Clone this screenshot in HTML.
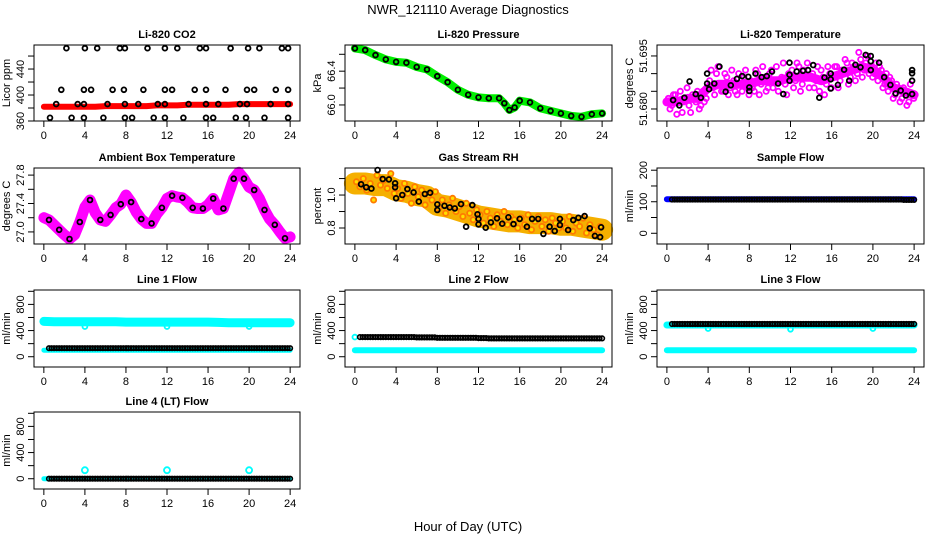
<!DOCTYPE html>
<html><head><meta charset="utf-8">
<style>
html,body{margin:0;padding:0;background:#fff;}
svg{display:block;font-family:"Liberation Sans",Arial,sans-serif;}
</style></head>
<body>
<svg id="chart" width="936" height="540" viewBox="0 0 936 540">
<text x="468" y="14" text-anchor="middle" font-size="13">NWR_121110  Average Diagnostics</text>
<text x="468" y="531" text-anchor="middle" font-size="13">Hour of Day (UTC)</text>
</svg>
<script>
// ---------- data ----------
const xTicks = [0,4,8,12,16,20,24];
const co2Band = [382,382,382,382,382,382,383,383,383,383,383,384,384,384,385,385,385,385,385,386,386,386,386,386,386];
const co2TopH = [2.2,4,5.2,7.4,7.9,10.1,11.8,13,15.2,15.8,18.2,19.9,21,23.2,23.8];
const co2MidH = [1.7,3.9,4.6,6.7,7.8,9.7,11.8,12.5,14.7,15.8,17.7,19.8,20.5,22.6,23.8];
const co2LowH = [1.2,3.3,3.9,6.2,7.9,9.2,11.1,11.8,14.1,15.8,17,19.1,19.8,22.1,23.8];
const co2BotH = [0.6,2.7,3.9,5.8,7.9,8.6,10.7,11.8,13.6,15.8,16.5,18.7,19.7,21.5,23.8];
const co2Levels = [472,408,386,365];

const presHours = [0,1,2,3,4,5,6,7,8,9,10,11,12,13,14,14.5,15,15.5,16,17,18,19,20,21,22,23,24];
const presVals = [66.67,66.65,66.59,66.54,66.51,66.50,66.45,66.42,66.34,66.27,66.18,66.12,66.09,66.08,66.08,66.02,65.94,65.97,66.05,66.03,65.96,65.93,65.90,65.87,65.86,65.89,65.90];

const tempTrend = [51.682,51.682,51.683,51.683,51.686,51.687,51.687,51.687,51.687,51.688,51.688,51.688,51.689,51.689,51.689,51.688,51.689,51.690,51.691,51.692,51.691,51.689,51.686,51.685,51.684];
const tempMagenta = [51.683,51.681,51.684,51.682,51.679,51.683,51.681,51.684,51.682,51.680,51.685,51.683,
51.688,51.686,51.690,51.687,51.685,51.689,51.686,51.688,51.684,51.687,51.689,51.686,
51.688,51.685,51.690,51.687,51.689,51.686,51.691,51.688,51.685,51.689,51.687,51.690,
51.691,51.688,51.692,51.687,51.689,51.686,51.690,51.688,51.685,51.689,51.687,51.690,
51.689,51.692,51.688,51.691,51.693,51.689,51.692,51.690,51.694,51.691,51.695,51.692,
51.690,51.688,51.691,51.687,51.685,51.688,51.684,51.686,51.683,51.685,51.682,51.684];
const tempMagenta2 = [51.680,51.684,51.6785,51.685,51.682,51.686,51.679,51.683,51.685,51.681,51.682,51.686,
51.691,51.684,51.692,51.685,51.690,51.684,51.691,51.685,51.690,51.685,51.691,51.684,
51.686,51.691,51.684,51.692,51.685,51.690,51.686,51.692,51.688,51.693,51.684,51.688,
51.686,51.693,51.685,51.691,51.693,51.689,51.686,51.692,51.691,51.684,51.692,51.686,
51.692,51.686,51.691,51.694,51.687,51.693,51.688,51.696,51.689,51.693,51.690,51.689,
51.693,51.692,51.686,51.690,51.689,51.683,51.687,51.682,51.686,51.681,51.687,51.683];
const tempBlackH = [0.6,1.2,1.7,2.2,2.8,3.3,3.9,3.9,4.1,4.6,5.1,5.7,6.2,6.8,7.3,7.9,8.0,8.0,8.6,9.2,9.7,10.2,10.8,11.3,11.9,11.9,11.9,12.6,13.2,13.7,14.2,14.8,15.3,15.9,15.9,15.9,16.6,17.2,17.7,18.3,18.8,19.3,19.8,19.8,19.8,20.6,21.1,21.7,22.2,22.7,23.2,23.8,23.8,23.8,23.8];
const tempBlackV = [51.6825,51.681,51.6832,51.6878,51.6842,51.6832,51.690,51.6872,51.6856,51.6872,51.692,51.6849,51.6867,51.6885,51.6893,51.6891,51.6861,51.6851,51.690,51.689,51.6893,51.6906,51.6872,51.6842,51.6931,51.6897,51.688,51.6906,51.6908,51.691,51.6924,51.6832,51.6889,51.690,51.6884,51.6858,51.6868,51.6911,51.688,51.6925,51.6918,51.6953,51.695,51.6935,51.691,51.6931,51.689,51.6868,51.6844,51.6852,51.6838,51.6842,51.688,51.6901,51.691];

const ambHours = [0,0.5,1,1.5,2,2.5,3,3.5,4,4.5,5,5.5,6,6.5,7,7.5,8,8.5,9,9.5,10,10.5,11,11.5,12,12.5,13,13.5,14,14.5,15,15.5,16,16.5,17,17.5,18,18.5,19,19.5,20,20.5,21,21.5,22,22.5,23,23.5,24];
const ambVals = [27.20,27.17,27.10,27.03,26.96,26.90,26.96,27.14,27.35,27.45,27.27,27.17,27.15,27.24,27.34,27.39,27.52,27.42,27.28,27.18,27.12,27.12,27.25,27.34,27.47,27.51,27.49,27.48,27.42,27.34,27.33,27.33,27.38,27.47,27.31,27.33,27.54,27.75,27.84,27.75,27.63,27.59,27.47,27.31,27.18,27.10,27.00,26.91,26.93];

const rhTrend = [1.07,1.07,1.06,1.06,1.03,1.02,1.00,0.99,0.94,0.93,0.91,0.89,0.87,0.86,0.85,0.84,0.84,0.83,0.83,0.83,0.82,0.82,0.81,0.80,0.79];
const rhOrange = [1.08,1.05,1.10,1.03,1.07,0.97,1.12,1.06,1.09,1.04,1.13,1.01,
1.04,0.98,1.07,1.01,0.95,1.05,0.99,1.03,0.94,1.00,0.97,1.02,
0.92,0.97,0.89,0.94,0.98,0.90,0.93,0.87,0.95,0.89,0.85,0.91,
0.88,0.83,0.90,0.86,0.81,0.88,0.84,0.90,0.82,0.87,0.85,0.80,
0.86,0.82,0.88,0.79,0.84,0.87,0.81,0.85,0.78,0.86,0.83,0.80,
0.84,0.80,0.87,0.78,0.83,0.81,0.86,0.77,0.82,0.79,0.76,0.81];
const rhBlackH = [0.6,1.1,1.6,2.2,2.7,3.3,3.9,3.9,4.0,4.6,5.1,5.7,6.2,6.8,7.3,8.0,8.0,8.7,9.2,9.7,10.3,10.8,11.4,11.9,12.0,12.0,12.7,13.2,13.8,14.3,14.9,15.4,16.0,16.7,17.2,17.8,18.3,18.9,19.4,19.9,19.9,20.7,21.2,21.7,22.3,22.8,23.3,23.8,23.9];
const rhBlackV = [1.065,1.047,1.039,1.152,1.097,1.095,1.071,1.047,0.98,1.0,1.036,1.016,0.96,1.006,1.014,0.943,0.909,0.935,0.925,0.919,0.945,0.808,0.939,0.883,0.855,0.822,0.802,0.834,0.859,0.826,0.865,0.824,0.855,0.808,0.855,0.855,0.764,0.808,0.782,0.818,0.855,0.788,0.848,0.862,0.872,0.798,0.752,0.745,0.804];

const sampleBlue = [108,108,108,108,108,108,108,108,108,108,108,108,108,108,108,108,108,108,108,108,108,108,108,108,108];
const sampleBlack = [107,107,107,107,107,107,107,107,107,107,107,107,107,107,107,107,107,107,107,107,107,107,107,106,106];
const line1CyanHigh = [540,535,535,535,535,535,535,535,530,530,530,530,530,530,530,530,530,525,520,520,520,520,520,520,520];
const line1CyanLow = [100,100,100,100,100,100,100,100,100,100,100,100,100,100,100,100,100,100,100,100,100,100,100,100,100];
const line1Black = [130,130,130,130,130,130,130,130,130,130,130,130,130,130,130,130,130,130,130,130,130,130,130,130,130];
const line2Black = [300,300,300,300,300,300,295,295,290,290,290,290,285,280,280,280,280,280,280,280,280,280,280,280,280];
const line2Cyan = [100,100,100,100,100,100,100,100,100,100,100,100,100,100,100,100,100,100,100,100,100,100,100,100,100];
const line3Black = [500,500,500,500,500,500,500,500,500,500,500,500,500,500,500,500,500,500,500,500,500,500,500,500,500];
const line3CyanHigh = [485,485,485,485,485,485,485,485,485,485,485,485,485,485,485,485,485,485,485,485,485,485,485,485,485];
const line3CyanLow = [100,100,100,100,100,100,100,100,100,100,100,100,100,100,100,100,100,100,100,100,100,100,100,100,100];
const line4Black = [0,0,0,0,0,0,0,0,0,0,0,0,0,0,0,0,0,0,0,0,0,0,0,0,0];
const line4Cyan = [0,0,0,0,0,0,0,0,0,0,0,0,0,0,0,0,0,0,0,0,0,0,0,0,0];
const flowSpikeH = [4,12,20];
const line1Dips = [460,460,460];
const line3Dips = [430,420,430];
const line4Spikes = [130,130,130];

// ---------- helpers ----------
const NS = "http://www.w3.org/2000/svg";
const svg = document.getElementById('chart');
function mk(tag, attrs, parent){const e=document.createElementNS(NS,tag);for(const k in attrs)e.setAttribute(k,attrs[k]);(parent||svg).appendChild(e);return e;}
const colL=[34,345,657], colR=[300,612,924];
const rowT=[45,168,290,412], rowB=[121,244,367,489];

function panel(c,r,ymin,ymax,yt,yl,title,ylab,name){
  const L=colL[c],R=colR[c],T=rowT[r],B=rowB[r];
  const g=mk('g',{});
  
  
  const xs=h=>L+(h+0.96)/25.92*(R-L);
  const ys=v=>B-(v-ymin)/(ymax-ymin)*(B-T);
  const t=mk('text',{x:(L+R)/2,y:T-7,'text-anchor':'middle','font-size':'11','font-weight':'bold'},g);
  t.textContent=title;
  
  
  const data=mk('g',{},g);
  
  
  const box=mk('rect',{x:L,y:T,width:R-L,height:B-T,fill:'none',stroke:'#000','stroke-width':1},g);
  
  
  const xa=mk('g',{},g);
  
  
  mk('line',{x1:xs(0),x2:xs(24),y1:B,y2:B,stroke:'#000'},xa);
  xTicks.forEach(h=>{
    mk('line',{x1:xs(h),x2:xs(h),y1:B,y2:B+6,stroke:'#000'},xa);
    const tx=mk('text',{x:xs(h),y:B+18,'text-anchor':'middle','font-size':'11'},xa);
    tx.textContent=h;
  });
  const ya=mk('g',{},g);
  
  
  yt.forEach(v=>{mk('line',{x1:L-6,x2:L,y1:ys(v),y2:ys(v),stroke:'#000'},ya);});
  yl.forEach(v=>{
    const y=ys(v);
    const tx=mk('text',{x:L-10,y:y,'text-anchor':'middle','font-size':'11',transform:`rotate(-90 ${L-10} ${y})`},ya);
    tx.textContent=(typeof v==='number'&&ymax-ymin<0.1)?v.toFixed(3):(ymax-ymin<2?v.toFixed(1):v);
  });
  const yt2=mk('text',{x:L-24,y:(T+B)/2,'text-anchor':'middle','font-size':'11',transform:`rotate(-90 ${L-24} ${(T+B)/2})`},g);
  yt2.textContent=ylab;
  
  
  return {xs,ys,g:data};
}
function band(p,hours,vals,color,w){
  const pts=hours.map((h,i)=>p.xs(h).toFixed(1)+','+p.ys(vals[i]).toFixed(1)).join(' ');
  const pl=mk('polyline',{points:pts,fill:'none',stroke:color,'stroke-width':w,'stroke-linejoin':'round','stroke-linecap':'round'},p.g);
  
  
}
function dots(p,hours,vals,color,fill,r,sw){
  hours.forEach((h,i)=>{
    const c=mk('circle',{cx:p.xs(h).toFixed(1),cy:p.ys(vals[i]).toFixed(1),r:r||2.4,fill:fill||'none',stroke:color,'stroke-width':sw||1.8},p.g);
    
    
  });
}
const hourly=[0,1,2,3,4,5,6,7,8,9,10,11,12,13,14,15,16,17,18,19,20,21,22,23,24];
function stepDots(p,arr,start,color){
  for(let q=Math.round(start*4);q<=96;q++){
    const h=q/4; const v=arr[Math.min(24,Math.floor(h))];
    const c=mk('circle',{cx:p.xs(h).toFixed(1),cy:p.ys(v).toFixed(1),r:2.3,fill:'none',stroke:color,'stroke-width':1.6},p.g);
    
    
  }
}
const thirds=tempMagenta.map((_,i)=>i/3+0.15);
const thirdsB=tempMagenta.map((_,i)=>i/3+0.3);

// ---------- panels ----------
let p=panel(0,0,360,477,[360,380,400,420,440,460],[360,400,440],'Li-820 CO2','Licor ppm','co2');
band(p,hourly,co2Band,'#ff0000',6);
[co2TopH,co2MidH,co2LowH,co2BotH].forEach((hs,k)=>dots(p,hs,hs.map(()=>co2Levels[k]),'#000'));

p=panel(1,0,65.81,66.71,[66.0,66.2,66.4,66.6],[66.0,66.4],'Li-820 Pressure','kPa','pressure');
band(p,presHours,presVals,'#00ee00',8);
dots(p,presHours,presVals,'#000');

p=panel(2,0,51.6766,51.6981,[51.680,51.685,51.690,51.695],[51.680,51.695],'Li-820 Temperature','degrees C','temperature');
band(p,hourly,tempTrend,'#ff00ff',9);
dots(p,thirds,tempMagenta,'#ff00ff','none',2.6,1.8);
dots(p,thirdsB,tempMagenta2,'#ff00ff','none',2.6,1.8);
dots(p,tempBlackH,tempBlackV,'#000');

p=panel(0,1,26.83,27.9,[27.0,27.2,27.4,27.6,27.8],[27.0,27.4,27.8],'Ambient Box Temperature','degrees C','ambient');
band(p,ambHours,ambVals,'#ff00ff',11);
dots(p,ambHours.filter((_,i)=>i%2===1),ambVals.filter((_,i)=>i%2===1),'#000');

p=panel(1,1,0.703,1.164,[0.8,0.9,1.0,1.1],[0.8,1.0],'Gas Stream RH','percent','rh');
band(p,hourly,rhTrend,'#f5b000',22);
dots(p,thirds,rhOrange,'#ff7a00','#ffe000',2.6);
dots(p,rhBlackH,rhBlackV,'#000');

p=panel(2,1,-34,207,[0,50,100,150,200],[0,100,200],'Sample Flow','ml/min','sample-flow');
band(p,hourly,sampleBlue,'#0000ff',6);
stepDots(p,sampleBlack,0.5,'#000');

const fMin=-157,fMax=1020,fT=[0,200,400,600,800,1000],fL=[0,400,800];
p=panel(0,2,fMin,fMax,fT,fL,'Line 1 Flow','ml/min','line1-flow');
band(p,hourly,line1CyanHigh,'#00ffff',9);
band(p,hourly,line1CyanLow,'#00ffff',5);
dots(p,flowSpikeH,line1Dips,'#00ffff');
stepDots(p,line1Black,0.5,'#000');

p=panel(1,2,fMin,fMax,fT,fL,'Line 2 Flow','ml/min','line2-flow');
band(p,hourly,line2Cyan,'#00ffff',6);
dots(p,[0],[300],'#00ffff');
stepDots(p,line2Black,0.5,'#000');

p=panel(2,2,fMin,fMax,fT,fL,'Line 3 Flow','ml/min','line3-flow');
band(p,hourly,line3CyanHigh,'#00ffff',7);
band(p,hourly,line3CyanLow,'#00ffff',6);
dots(p,flowSpikeH,line3Dips,'#00ffff');
stepDots(p,line3Black,0.5,'#000');

p=panel(0,3,fMin,fMax,fT,fL,'Line 4 (LT) Flow','ml/min','line4-flow');
band(p,hourly,line4Cyan,'#00ffff',5);
dots(p,flowSpikeH,line4Spikes,'#00ffff','none',3);
stepDots(p,line4Black,0.5,'#000');
</script>
</body></html>
